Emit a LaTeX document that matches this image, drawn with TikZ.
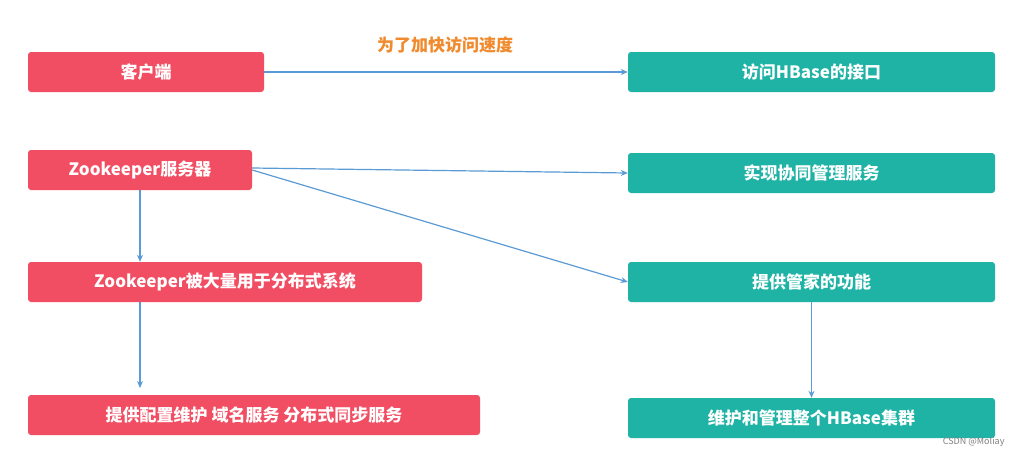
\documentclass[tikz,border=0pt]{standalone}
\usepackage{fontspec}
\setmainfont{Noto Sans CJK SC}
\usetikzlibrary{arrows.meta}
\definecolor{redbox}{HTML}{F24E63}
\definecolor{tealbox}{HTML}{1FB3A6}
\definecolor{arr}{HTML}{5B9BD5}
\definecolor{orangetxt}{HTML}{F08A2C}
\begin{document}
\begin{tikzpicture}[x=1pt,y=-1pt,
  rbox/.style={fill=redbox,rounded corners=3pt,text=white,font=\fontsize{17}{20}\selectfont\bfseries,inner sep=0pt},
  tbox/.style={fill=tealbox,rounded corners=3pt,text=white,font=\fontsize{17}{20}\selectfont\bfseries,inner sep=0pt},
  conn/.style={draw=arr,line width=1.2pt,-{Stealth[length=7pt,width=6pt]}}]
\useasboundingbox[fill=white] (0,0) rectangle (1011,453);
\node[rbox,minimum width=236pt,minimum height=40pt] (c) at (146,72) {客户端};
\node[tbox,minimum width=367pt,minimum height=40pt] (h) at (811.5,72) {访问HBase的接口};
\node[rbox,minimum width=224pt,minimum height=40pt] (z) at (140,170) {Zookeeper服务器};
\node[tbox,minimum width=367pt,minimum height=40pt] (s) at (811.5,173) {实现协同管理服务};
\node[rbox,minimum width=394pt,minimum height=40pt] (d) at (225,282) {Zookeeper被大量用于分布式系统};
\node[tbox,minimum width=367pt,minimum height=40pt] (g) at (811.5,282) {提供管家的功能};
\node[rbox,minimum width=452pt,minimum height=40pt] (p) at (254,415) {提供配置维护\ 域名服务\ 分布式同步服务};
\node[tbox,minimum width=367pt,minimum height=40pt] (w) at (811.5,418) {维护和管理整个HBase集群};
\node[text=orangetxt,font=\fontsize{17}{20}\selectfont\bfseries] (lab) at (445,45) {为了加快访问速度};
\node[text=gray,font=\fontsize{9}{10}\selectfont,anchor=south east] (wm) at (1008,450) {CSDN @Moliay};
\draw[conn] (c.east) -- (h.west);
\draw[conn] (z.east) ++(0,-2) coordinate (z1) -- (s.west);
\draw[conn] (z.east) -- (g.west);
\draw[conn] (z.south) -- (z.south |- d.north);
\draw[conn] (140,302) coordinate (d1) -- (140,388) coordinate (p1);
\draw[conn] (g.south) -- (g.south |- w.north);
\end{tikzpicture}
\end{document}
